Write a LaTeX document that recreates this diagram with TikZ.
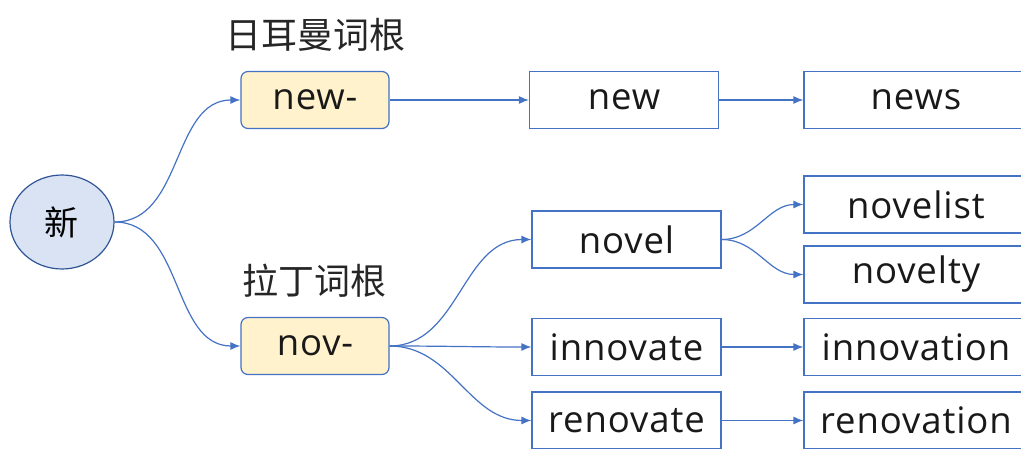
\documentclass[tikz,border=0pt]{standalone}
\usepackage{fontspec}
\setmainfont[LetterSpace=2.5]{Open Sans}
\newfontfamily\cjk{Noto Sans CJK SC}
\usetikzlibrary{arrows.meta,shapes.geometric}
\definecolor{edgeblue}{HTML}{4472C4}
\definecolor{darkblue}{HTML}{2F5597}
\definecolor{rootfill}{HTML}{FFF2CC}
\definecolor{circfill}{HTML}{DAE3F3}
\tikzset{
  x=1pt, y=-1pt,
  wordbox/.style={draw=edgeblue, line width=1.2pt, fill=white, minimum width=189pt, minimum height=57pt, inner sep=0pt, font=\fontsize{36.5}{40}\selectfont, text=black!90},
  rightbox/.style={wordbox, minimum width=224pt},
  rootbox/.style={draw=edgeblue, line width=1.2pt, fill=rootfill, rounded corners=7pt, minimum width=148pt, minimum height=57pt, inner sep=0pt, font=\fontsize{36.5}{40}\selectfont, text=black!90},
  cjklabel/.style={inner sep=0pt, font=\cjk\fontsize{36}{40}\selectfont, text=black!85},
  link/.style={draw=edgeblue, line width=1.2pt, -{Latex[length=10pt,width=8pt]}},
}
\begin{document}
\begin{tikzpicture}
\useasboundingbox (0,0) rectangle (1021,449);
\clip (0,0) rectangle (1021,449);
\node[ellipse, draw=darkblue, line width=1.2pt, fill=circfill, minimum width=104pt, minimum height=94pt, inner sep=0pt, font=\cjk\fontsize{34}{40}\selectfont] (root) at (62,222) {新};
\node[cjklabel] (lab1) at (315,35) {日耳曼词根};
\node[cjklabel] (lab2) at (314,281) {拉丁词根};
\node[rootbox] (newr) at (315,100) {new-};
\node[rootbox] (novr) at (315,346) {nov-};
\node[wordbox] (new) at (624,100) {new};
\node[rightbox] (news) at (916,100) {news};
\node[wordbox] (novel) at (626.5,239.5) {novel};
\node[rightbox] (novelist) at (916,204.5) {novelist};
\node[rightbox] (novelty) at (916,274.5) {novelty};
\node[wordbox] (innovate) at (626.5,347) {innovate};
\node[rightbox] (innovation) at (916,347) {innovation};
\node[wordbox] (renovate) at (626.5,420.5) {renovate};
\node[rightbox] (renovation) at (916,420.5) {renovation};
\draw[link] (root.east) to[out=0,in=180] (newr.west);
\draw[link] (root.east) to[out=0,in=180] (novr.west);
\draw[link] (newr.east) -- (new.west);
\draw[link] (new.east) -- (news.west);
\draw[link] (novr.east) to[out=0,in=180] (novel.west);
\draw[link] (novr.east) to[out=0,in=180] (innovate.west);
\draw[link] (novr.east) to[out=0,in=180] (renovate.west);
\draw[link] (novel.east) to[out=0,in=180] (novelist.west);
\draw[link] (novel.east) to[out=0,in=180] (novelty.west);
\draw[link] (innovate.east) -- (innovation.west);
\draw[link] (renovate.east) -- (renovation.west);
\end{tikzpicture}
\end{document}
